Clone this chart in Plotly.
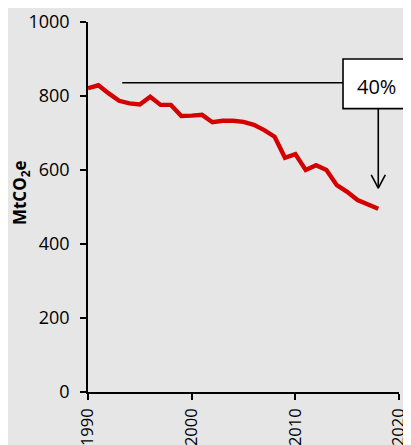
import plotly.graph_objects as go

years = list(range(1990, 2019))
emissions = [821, 829, 807, 787, 780, 777, 798, 776, 776, 746, 747, 749, 729, 733, 733,
             730, 722, 708, 690, 633, 643, 600, 613, 600, 559, 541, 519, 507, 495]

x_ticks = [1990, 2000, 2010, 2020]
y_ticks = [0, 200, 400, 600, 800, 1000]

ref_level = 836          # level of the horizontal reference line
ref_start = 1993.3       # where the reference line starts
ref_end = 2014.6         # where the reference line meets the label box
arrow_year = 2018
arrow_top = 765          # bottom of label box (data units)
arrow_tip = 551
label_text = "40%"

FONT = "Open Sans"
BG = "#e6e6e6"
FS = 18

fig = go.Figure()
fig.add_trace(go.Scatter(x=years, y=emissions, mode="lines",
                         line=dict(color="#d50000", width=4.4),
                         hoverinfo="skip", showlegend=False))

# arrow (vertical line + open V head)
fig.add_trace(go.Scatter(
    x=[arrow_year, arrow_year, None, arrow_year - 0.68, arrow_year, arrow_year + 0.68],
    y=[arrow_top, arrow_tip, None, arrow_tip + 36, arrow_tip, arrow_tip + 36],
    mode="lines", line=dict(color="black", width=1.6),
    hoverinfo="skip", showlegend=False))

fig.add_shape(type="line", xref="x", yref="y", x0=ref_start, x1=ref_end,
              y0=ref_level, y1=ref_level, line=dict(color="black", width=1.6))

# label box
fig.add_shape(type="rect", xref="paper", yref="paper",
              x0=0.82, x1=1.08, y0=0.766, y1=0.90,
              fillcolor="white", line=dict(color="black", width=1.6), layer="above")
fig.add_annotation(xref="paper", yref="paper", x=0.929, y=0.827, text=label_text,
                   xanchor="center", yanchor="middle",
                   showarrow=False, font=dict(family=FONT, size=20, color="black"))

fig.add_annotation(xref="paper", yref="paper", x=-0.215, y=0.538,
                   xanchor="center", yanchor="middle",
                   text="<b>MtCO<sub>2</sub>e</b>", textangle=-90, showarrow=False,
                   font=dict(family=FONT, size=17, color="black"))

# page body has an 8px margin: the figure is offset by (8, 8)
fig.update_layout(
    width=403, height=437,
    margin=dict(l=80, r=12, t=14, b=53, autoexpand=False),
    paper_bgcolor=BG, plot_bgcolor=BG,
    font=dict(family=FONT, size=FS, color="black"),
    xaxis=dict(range=[1990, 2020], tickvals=x_ticks, tickangle=-90, automargin=False,
               showgrid=False, zeroline=False, showline=True, linecolor="black",
               linewidth=1.5, ticks="outside", ticklen=6, tickwidth=1.5,
               ticklabelstandoff=2,
               tickcolor="black", tickfont=dict(family=FONT, size=16.5)),
    yaxis=dict(range=[0, 1000], tickvals=y_ticks, showgrid=False, zeroline=False,
               automargin=False, ticklabelstandoff=7,
               showline=True, linecolor="black", linewidth=1.5, ticks="outside",
               ticklen=6, tickwidth=1.5, tickcolor="black",
               tickfont=dict(family=FONT, size=FS)),
)

fig.write_html("out.html")
